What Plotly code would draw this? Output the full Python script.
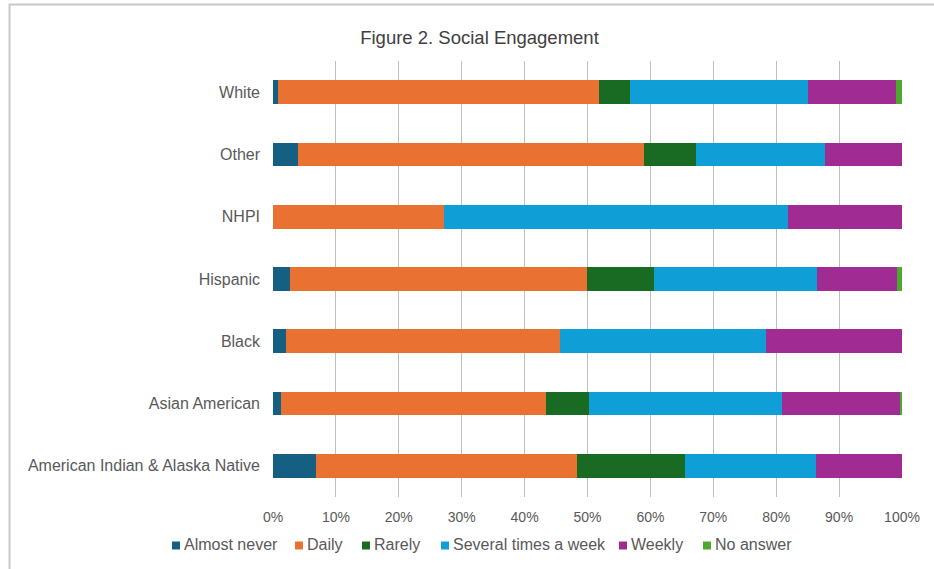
import plotly.graph_objects as go

categories = ["American Indian & Alaska Native", "Asian American", "Black",
              "Hispanic", "NHPI", "Other", "White"]

almost_never = [6.8, 1.3, 2.1, 2.7, 0.0, 4.0, 0.8]
daily = [41.5, 42.1, 43.6, 47.2, 27.2, 54.95, 51.0]
rarely = [17.2, 6.8, 0.0, 10.6, 0.0, 8.25, 5.0]
several_times_a_week = [20.9, 30.8, 32.6, 26.0, 54.7, 20.5, 28.3]
weekly = [13.6, 18.7, 21.7, 12.7, 18.1, 12.3, 13.96]
no_answer = [0.0, 0.3, 0.0, 0.8, 0.0, 0.0, 0.94]

tick_values = list(range(0, 101, 10))
tick_labels = [f"{v}%" for v in tick_values]

series = [
    ("Almost never", almost_never, "#156082"),
    ("Daily", daily, "#E97132"),
    ("Rarely", rarely, "#196B24"),
    ("Several times a week", several_times_a_week, "#0F9ED5"),
    ("Weekly", weekly, "#A02B93"),
    ("No answer", no_answer, "#4EA72E"),
]

# legend swatch left edges (pixels) along the bottom row
legend_x = [172, 295, 362, 441, 619, 703]
legend_y = 545.5

W, H = 934, 569
L, R, T, B = 273, 32, 61, 72
pw = W - L - R
ph = H - T - B


def px_x(px):
    return (px - L) / pw


def px_y(py):
    return (H - B - py) / ph


fig = go.Figure()
for name, vals, color in series:
    fig.add_trace(go.Bar(
        y=categories, x=vals, name=name, orientation="h",
        marker=dict(color=color, line=dict(width=0)),
        showlegend=False,
    ))

shapes = [dict(type="rect", xref="paper", yref="paper",
               x0=px_x(9.5), x1=px_x(960), y0=px_y(600), y1=px_y(4.5),
               line=dict(color="#C8C8C8", width=2), layer="below")]
annotations = []
for (name, _, color), lx in zip(series, legend_x):
    shapes.append(dict(type="rect", xref="paper", yref="paper",
                       x0=px_x(lx), x1=px_x(lx + 8),
                       y0=px_y(legend_y + 4), y1=px_y(legend_y - 4),
                       fillcolor=color, line=dict(width=0)))
    annotations.append(dict(text=name, xref="paper", yref="paper",
                            x=px_x(lx + 10), y=px_y(legend_y - 1),
                            xanchor="left", yanchor="middle", showarrow=False,
                            font=dict(size=16, color="#595959")))

fig.update_layout(
    width=W, height=H,
    barmode="stack", bargap=0.62,
    margin=dict(l=L, r=R, t=T, b=B),
    paper_bgcolor="white", plot_bgcolor="white",
    font=dict(family="Liberation Sans, Arial, sans-serif", size=14, color="#595959"),
    title=dict(text="Figure 2. Social Engagement", x=479.5 / W, y=1 - 37.5 / H,
               xref="container", yref="container", xanchor="center", yanchor="middle",
               font=dict(size=18.5, color="#404040")),
    xaxis=dict(range=[0, 100], tickvals=tick_values, ticktext=tick_labels,
               showgrid=True, gridcolor="#BFBFBF", gridwidth=1,
               zeroline=False, showline=False, ticks="", fixedrange=True,
               ticklabelstandoff=10,
               tickfont=dict(size=14, color="#595959")),
    yaxis=dict(categoryorder="array", categoryarray=categories,
               showgrid=False, zeroline=False, showline=False, ticks="",
               ticklabelstandoff=12, fixedrange=True,
               tickfont=dict(size=16, color="#595959")),
    showlegend=False,
    shapes=shapes,
    annotations=annotations,
)

fig.write_html("out.html")
